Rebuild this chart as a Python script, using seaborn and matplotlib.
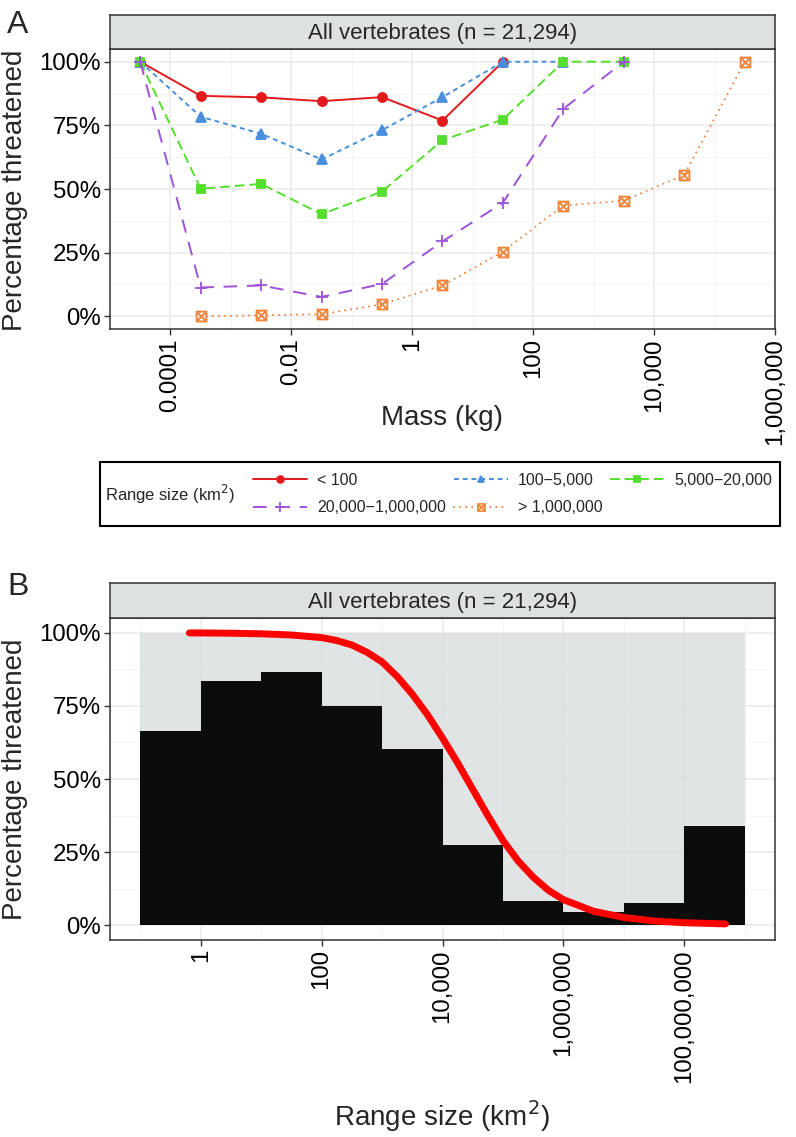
import numpy as np
import pandas as pd
import matplotlib
matplotlib.use("Agg")
import matplotlib.pyplot as plt
from matplotlib.patches import Rectangle
import seaborn as sns

# ========================
# DATA
# ========================
# panel A: % threatened per body-mass bin (bin centres in kg), one series per range class
mass_kg = [0.0000316, 0.000316, 0.00316, 0.0316, 0.316, 3.16, 31.6, 316, 3160, 31600, 316000]
range_classes = ["< 100", "100\u22125,000", "5,000\u221220,000",
                 "20,000\u22121,000,000", "> 1,000,000"]
nan = np.nan
pct_lt100 = [100, 86.6, 86.0, 84.5, 86.1, 76.9, 100, nan, nan, nan, nan]
pct_100_5k = [100, 78.4, 71.7, 61.6, 73.1, 86.1, 100, 100, nan, nan, nan]
pct_5k_20k = [100, 50.1, 52.0, 40.1, 49.0, 69.2, 77.3, 100, 100, nan, nan]
pct_20k_1m = [100, 11.3, 12.1, 7.6, 12.7, 29.4, 44.6, 81.5, 100, nan, nan]
pct_gt1m = [nan, 0.0, 0.4, 0.8, 4.7, 12.1, 25.4, 43.5, 45.4, 55.6, 100]

# panel B: % threatened per range-size bin (log10 km2 bins from -1 to 9)
range_bin_mid_km2 = [0.316, 3.16, 31.6, 316, 3160, 31600, 316000, 3160000, 31600000, 316000000]
assessed_pct = [100, 100, 100, 100, 100, 100, 100, 100, 100, 100]
threatened_pct = [66.5, 83.4, 86.5, 75.0, 60.3, 27.4, 8.2, 4.4, 7.5, 33.8]

# fitted curve
curve_km2 = [0.65, 1, 3.16, 10, 31.6, 100, 178, 316, 562, 1000, 1780, 3160, 5620,
             10000, 17800, 31600, 56200, 100000, 178000, 316000, 562000, 1000000,
             3160000, 10000000, 31600000, 100000000, 480000000]
curve_pct = [99.9, 99.9, 99.8, 99.6, 99.2, 98.3, 97.3, 95.8, 93.3, 90.0, 85.0, 79.0,
             72.0, 64.0, 55.5, 46.5, 37.5, 29.0, 22.0, 16.5, 12.0, 8.8,
             4.8, 2.7, 1.5, 0.9, 0.5]

series = [pct_lt100, pct_100_5k, pct_5k_20k, pct_20k_1m, pct_gt1m]
rows = []
for cls, vals in zip(range_classes, series):
    for m, v in zip(mass_kg, vals):
        if not np.isnan(v):
            rows.append({"mass": m, "pct": v, "range": cls})
df = pd.DataFrame(rows)

colors = ["#e31a1c", "#4a8fdb", "#55de2e", "#9d52d9", "#f0833a"]
marker_list = ["o", "^", "s", "+", r"$\boxtimes$"]
marker_sizes = [6.5, 6.5, 6, 9, 8]
dash_list = [None, (2.5, 2), (5, 2.5), (7, 5), (0.1, 3)]

# ========================
# STYLE / LAYOUT
# ========================
sns.set_theme(style="white")
plt.rcParams["font.family"] = ["Liberation Sans", "DejaVu Sans"]

W, H = 796, 1137


def fbox(l, t, r, b):
    return [l / W, 1 - b / H, (r - l) / W, (b - t) / H]


def style_panel(ax):
    ax.set_facecolor("white")
    for s in ax.spines.values():
        s.set_color("#333333")
        s.set_linewidth(1.1)
    ax.grid(True, which="major", color="#ebebeb", lw=1.1)
    ax.grid(True, which="minor", color="#f3f3f3", lw=0.6)
    ax.set_axisbelow(True)
    ax.tick_params(which="major", length=4.5, width=1, color="#333333",
                   labelsize=17.3, labelcolor="black", pad=2,
                   bottom=True, left=True)
    ax.tick_params(which="minor", length=0)
    ax.tick_params(axis="x", labelrotation=90)
    ax.set_ylim(-5, 105)
    ax.set_yticks([0, 25, 50, 75, 100], ["0%", "25%", "50%", "75%", "100%"])
    ax.set_yticks([12.5, 37.5, 62.5, 87.5], minor=True)
    ax.set_xlabel("")
    ax.set_ylabel("")


def strip(box, text):
    s = fig.add_axes(fbox(*box))
    s.set_facecolor("#dde1e1")
    s.set_xticks([])
    s.set_yticks([])
    for sp in s.spines.values():
        sp.set_color("#333333")
        sp.set_linewidth(1.1)
    s.text(0.5, 0.45, text, ha="center", va="center", fontsize=16, transform=s.transAxes)


fig = plt.figure(figsize=(W / 100, H / 100), dpi=100)

# ========================
# PANEL A
# ========================
axA = fig.add_axes(fbox(110, 49, 775, 329))
for cls, col, mk, ms, dsh in zip(range_classes, colors, marker_list, marker_sizes, dash_list):
    sub = df[df["range"] == cls]
    sns.lineplot(data=sub, x="mass", y="pct", color=col, marker=mk,
                 markersize=ms, lw=1.4, ax=axA, label=cls)
    ln = axA.lines[-1]
    ln.set_markeredgecolor(col)
    ln.set_markerfacecolor(col)
    ln.set_markeredgewidth(1.3 if mk != marker_list[-1] else 0.4)
    if dsh is not None:
        ln.set_dashes(dsh)
if axA.get_legend() is not None:
    axA.get_legend().remove()
axA.lines[4].set_dash_capstyle("round")
axA.set_xscale("log")
axA.set_xlim(10 ** -5, 10 ** 6)
style_panel(axA)
axA.set_xticks([1e-4, 1e-2, 1, 1e2, 1e4, 1e6],
               ["0.0001", "0.01", "1", "100", "10,000", "1,000,000"])
axA.set_xticks([1e-5, 1e-3, 1e-1, 1e1, 1e3, 1e5], minor=True)
axA.set_xticklabels([], minor=True)
strip((110, 15, 775, 49), "All vertebrates (n = 21,294)")

# legend with title on the left, in a box
handles = [axA.lines[i] for i in [0, 3, 1, 4, 2]]
labels = [range_classes[i] for i in [0, 3, 1, 4, 2]]
fig.legend(handles, labels, ncol=3, loc="center left",
           bbox_to_anchor=(253 / W, 1 - 494 / H), frameon=False,
           fontsize=11.5, handlelength=3.4, handletextpad=0.6, markerscale=0.75,
           columnspacing=0.5, labelspacing=0.8, borderpad=0, borderaxespad=0)
fig.text(105 / W, 1 - 494 / H, "Range size (km$^2$)", fontsize=12,
         ha="left", va="center")
fig.patches.append(Rectangle((100 / W, 1 - 526 / H), 680 / W, 64 / H,
                             transform=fig.transFigure, fill=False,
                             ec="black", lw=1.5))

# ========================
# PANEL B
# ========================
axB = fig.add_axes(fbox(110, 618, 775, 940))
sns.histplot(x=range_bin_mid_km2, weights=assessed_pct, bins=10, binrange=(-1, 9),
             log_scale=True, color="#d3d9d9", alpha=0.7, linewidth=0, ax=axB)
sns.histplot(x=range_bin_mid_km2, weights=threatened_pct, bins=10, binrange=(-1, 9),
             log_scale=True, color="#0b0d0c", alpha=1, linewidth=0, ax=axB)
sns.lineplot(x=curve_km2, y=curve_pct, color="#ff0000", lw=5, ax=axB)
axB.lines[-1].set_solid_joinstyle("round")
axB.set_xlim(10 ** -1.5, 10 ** 9.5)
style_panel(axB)
axB.set_xticks([1, 1e2, 1e4, 1e6, 1e8],
               ["1", "100", "10,000", "1,000,000", "100,000,000"])
axB.set_xticks([1e-1, 1e1, 1e3, 1e5, 1e7, 1e9], minor=True)
axB.set_xticklabels([], minor=True)
strip((110, 583, 775, 618), "All vertebrates (n = 21,294)")

# ========================
# TITLES / PANEL LETTERS
# ========================
fig.text(15 / W, 1 - 190 / H, "Percentage threatened", rotation=90,
         fontsize=20, ha="center", va="center")
fig.text(15 / W, 1 - 779 / H, "Percentage threatened", rotation=90,
         fontsize=20, ha="center", va="center")
fig.text(442 / W, 1 - 418 / H, "Mass (kg)", fontsize=20, ha="center", va="center")
fig.text(442 / W, 1 - 1116 / H, "Range size (km$^2$)", fontsize=20,
         ha="center", va="center")
fig.text(7 / W, 1 - 33 / H, "A", fontsize=23, ha="left", va="baseline")
fig.text(7 / W, 1 - 595 / H, "B", fontsize=23, ha="left", va="baseline")

fig.savefig("out.png", dpi=100)
